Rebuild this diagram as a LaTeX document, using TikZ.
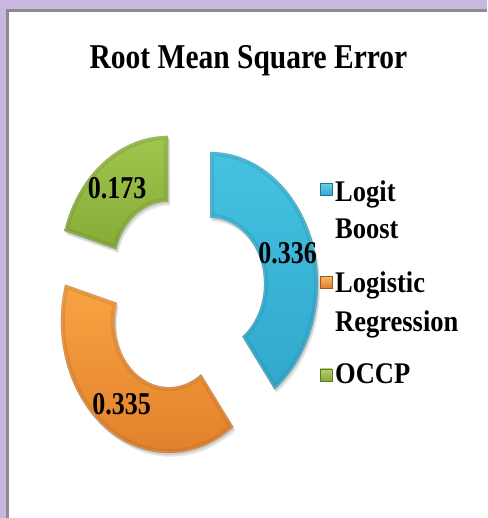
\documentclass[tikz,border=0pt]{standalone}
\usepackage{fontspec}
\setmainfont{Liberation Serif}
\definecolor{lav}{HTML}{C8B8E0}
\definecolor{framegray}{HTML}{8C8C8C}
\definecolor{blueA}{HTML}{45C2E2}
\definecolor{blueB}{HTML}{30A8CB}
\definecolor{orangeA}{HTML}{F8A443}
\definecolor{orangeB}{HTML}{E07D29}
\definecolor{greenA}{HTML}{A0C64E}
\definecolor{greenB}{HTML}{86AB37}
% one ring sector between two angles (outer radius 108, hole 54)
\newcommand\segpath[2]{(#1:108) arc[start angle=#1,end angle=#2,radius=108] -- (#2:54) arc[start angle=#2,end angle=#1,radius=54] -- cycle}
% exploded sector: {mid angle}{start}{end}{light}{dark}
\newcommand\ringpart[5]{%
  \begin{scope}[shift={(#1:27.1)}]
    \begin{scope}[shift={(2,-3)}]
      \fill[black,opacity=0.10] \segpath{#2}{#3};
    \end{scope}
    \begin{scope}[shift={(1,-1.5)}]
      \fill[black,opacity=0.10] \segpath{#2}{#3};
    \end{scope}
    \shade[top color=#4,bottom color=#5] \segpath{#2}{#3};
    \begin{scope}
      \clip \segpath{#2}{#3};
      \draw[#5!75!black,opacity=0.22,line width=8pt] \segpath{#2}{#3};
      \draw[#5!60!black,opacity=0.25,line width=1.6pt] \segpath{#2}{#3};
      \draw[white,opacity=0.18,line width=3pt] \segpath{#2}{#3};
    \end{scope}
  \end{scope}}
\begin{document}
\begin{tikzpicture}[x=1pt,y=1pt,
  titletext/.style={anchor=base,inner sep=0pt,yscale=1.18,
    font=\fontsize{29.5}{34}\selectfont\bfseries},
  valtext/.style={anchor=base,inner sep=0pt,yscale=1.22,
    font=\fontsize{26}{30}\selectfont\bfseries},
  legtext/.style={anchor=base west,inner sep=0pt,yscale=1.13,
    font=\fontsize{26.5}{30}\selectfont\bfseries},
  keybox/.style={minimum size=12pt,inner sep=0pt,draw=#1!70!black,line width=0.4pt}]
  \useasboundingbox (0,0) rectangle (487,518);
  % frame
  \fill[lav] (0,0) rectangle (487,518);
  \fill[white] (8.5,0) rectangle (487,506);
  \fill[framegray] (6,0) rectangle (8.5,509);
  \fill[framegray] (6,506) rectangle (487,509);
  % title
  \node[titletext] (title) at (248.5,449.7) {Root Mean Square Error};
  % exploded doughnut
  \begin{scope}[shift={(184.3,223.9)},yscale=1.22]
    \ringpart{18.341}{90}{-53.318}{blueA}{blueB}
    \ringpart{-124.763}{-53.318}{-196.209}{orangeA}{orangeB}
    \ringpart{126.896}{-196.209}{-270}{greenA}{greenB}
  \end{scope}
  % data labels
  \node[valtext] (v1) at (287.5,254.5) {0.336};
  \node[valtext] (v2) at (121.7,103) {0.335};
  \node[valtext] (v3) at (117,319.7) {0.173};
  % legend
  \node[keybox=blueB,top color=blueA!80!white,bottom color=blueB] (k1) at (326,328.5) {};
  \node[keybox=orangeB,top color=orangeA!80!white,bottom color=orangeB] (k2) at (326,235.5) {};
  \node[keybox=greenB,top color=greenA!80!white,bottom color=greenB] (k3) at (326,143) {};
  \node[legtext] (l1a) at (335,316.3) {Logit};
  \node[legtext] (l1b) at (335,279.7) {Boost};
  \node[legtext] (l2a) at (335,225.5) {Logistic};
  \node[legtext] (l2b) at (335,186.5) {Regression};
  \node[legtext] (l3) at (335,134) {OCCP};
\end{tikzpicture}
\end{document}
